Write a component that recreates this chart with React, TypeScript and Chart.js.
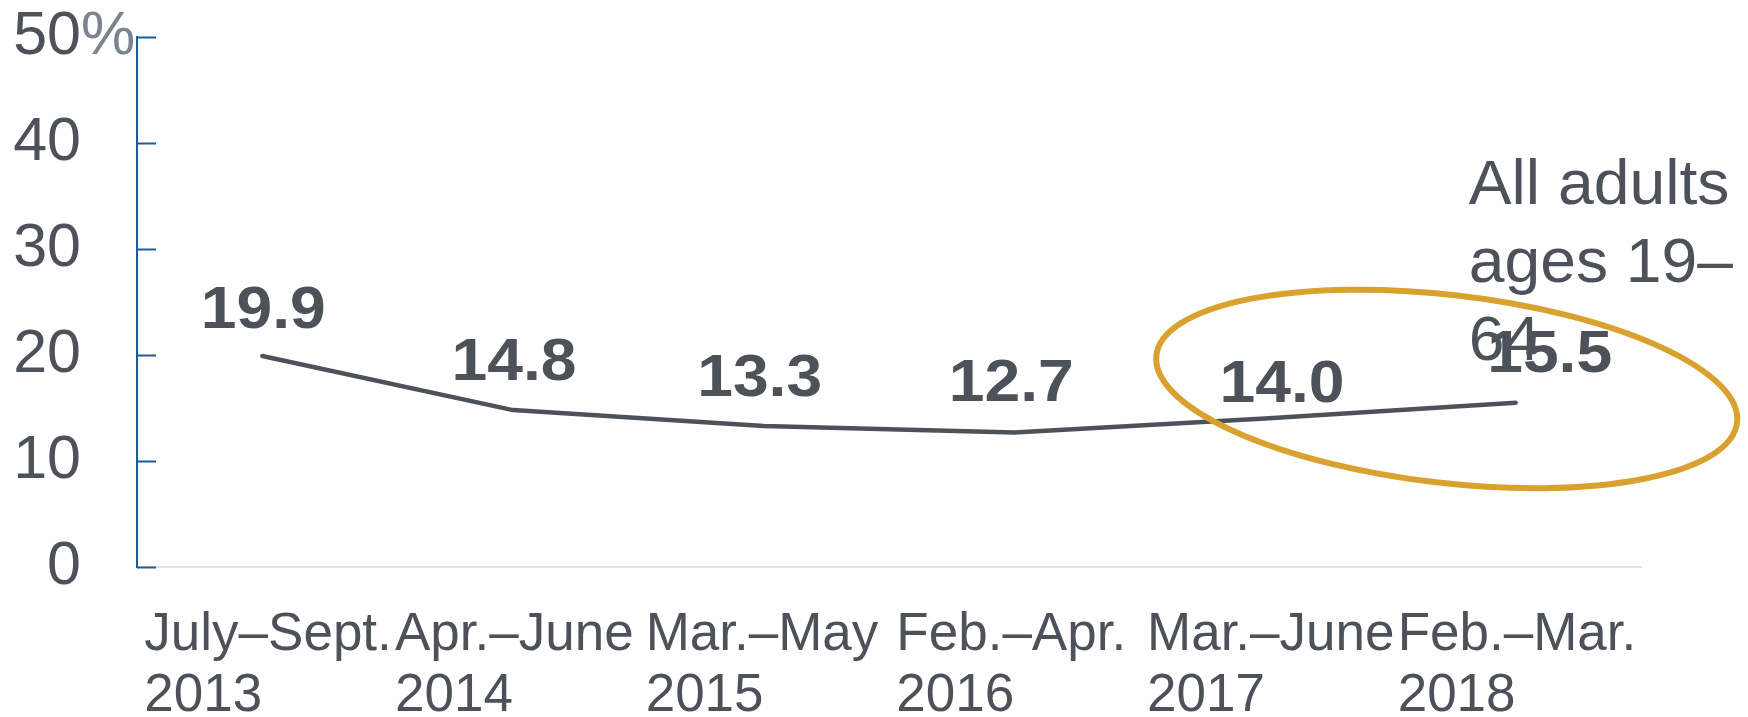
import React, { useEffect, useRef } from "react";
import { Chart, registerables } from "chart.js";

Chart.register(...registerables);

// ---- data ----
const categoryLines: string[][] = [
  ["July–Sept.", "2013"],
  ["Apr.–June", "2014"],
  ["Mar.–May", "2015"],
  ["Feb.–Apr.", "2016"],
  ["Mar.–June", "2017"],
  ["Feb.–Mar.", "2018"],
];
const uninsuredRate: number[] = [19.9, 14.8, 13.3, 12.7, 14.0, 15.5];
const yTickValues: number[] = [0, 10, 20, 30, 40, 50];
const seriesName: string[] = ["All adults", "ages 19–", "64"];

const TEXT = "#4d525a";
const PCT = "#7b8290";
const AXIS_BLUE = "#1f5b96";
const GOLD = "#d9a12f";
const FONT = "'Liberation Sans', Arial, Helvetica, sans-serif";

export default function App() {
  const ref = useRef<HTMLCanvasElement>(null);

  useEffect(() => {
    const canvas = ref.current;
    if (!canvas) return;

    const annotations = {
      id: "annotations",
      afterDraw(chart: any) {
        const ctx = chart.ctx as CanvasRenderingContext2D;
        const xs = chart.scales.x;
        const ys = chart.scales.y;
        const area = chart.chartArea;
        ctx.save();

        // y-axis tick marks pointing into the plot
        ctx.strokeStyle = AXIS_BLUE;
        ctx.lineWidth = 2;
        yTickValues.forEach((v) => {
          const py = Math.round(ys.getPixelForValue(v)) + 0.5;
          ctx.beginPath();
          ctx.moveTo(area.left, py);
          ctx.lineTo(area.left + 19, py);
          ctx.stroke();
        });

        // "%" after the top tick label
        ctx.font = `61px ${FONT}`;
        ctx.fillStyle = PCT;
        ctx.textAlign = "left";
        ctx.textBaseline = "middle";
        ctx.fillText("%", area.left - 56, ys.getPixelForValue(yTickValues[yTickValues.length - 1]));

        // series name
        ctx.font = `63px ${FONT}`;
        ctx.fillStyle = TEXT;
        ctx.textBaseline = "alphabetic";
        const nameX = xs.getPixelForValue(uninsuredRate.length - 1) - 47;
        const nameY = ys.getPixelForValue(34.2);
        seriesName.forEach((line, i) => {
          ctx.save();
          ctx.translate(nameX, nameY + i * 78);
          ctx.scale(1.02, 1);
          ctx.fillText(line, 0, 0);
          ctx.restore();
        });

        // value labels
        const shiftX = [1, 1, -4, -3, 17, 34];
        const shiftY = [28, 30, 30, 31, 17, 31];
        ctx.font = `bold 60px ${FONT}`;
        ctx.textAlign = "center";
        const meta = chart.getDatasetMeta(0);
        meta.data.forEach((pt: any, i: number) => {
          ctx.save();
          ctx.translate(pt.x + shiftX[i], pt.y - shiftY[i]);
          ctx.scale(1.07, 1);
          ctx.fillText(uninsuredRate[i].toFixed(1), 0, 0);
          ctx.restore();
        });

        // highlight ellipse
        const catW = xs.getPixelForValue(1) - xs.getPixelForValue(0);
        const unitH = ys.getPixelForValue(0) - ys.getPixelForValue(1);
        const cx = xs.getPixelForValue(4.725);
        const cy = ys.getPixelForValue(16.8);
        ctx.strokeStyle = GOLD;
        ctx.lineWidth = 6;
        ctx.beginPath();
        ctx.ellipse(cx, cy, 1.166 * catW, 8.87 * unitH, (6.6 * Math.PI) / 180, 0, Math.PI * 2);
        ctx.stroke();

        ctx.restore();
      },
    };

    const chart = new Chart(canvas, {
      type: "line",
      data: {
        labels: categoryLines,
        datasets: [
          {
            data: uninsuredRate,
            borderColor: TEXT,
            borderWidth: 4.5,
            borderCapStyle: "round",
            borderJoinStyle: "round",
            pointRadius: 0,
            tension: 0,
            fill: false,
          },
        ],
      },
      options: {
        animation: false,
        responsive: false,
        maintainAspectRatio: false,
        layout: { padding: { top: 37, right: 107, left: 0, bottom: 0 } },
        plugins: {
          legend: { display: false },
          tooltip: { enabled: false },
          title: { display: false },
        },
        scales: {
          x: {
            type: "category",
            offset: true,
            grid: { display: false },
            border: { display: true, color: "#e2e2e2", width: 2 },
            ticks: {
              color: TEXT,
              font: { family: FONT, size: 53, lineHeight: 1.15 },
              align: "start",
              labelOffset: -118,
              padding: 30,
              maxRotation: 0,
              minRotation: 0,
              autoSkip: false,
            },
            afterFit: (scale: any) => {
              scale.height = 150;
              scale.paddingLeft = 0;
              scale.paddingRight = 0;
            },
          },
          y: {
            min: 0,
            max: 50,
            grid: { display: true, drawOnChartArea: false, drawTicks: false, color: "rgba(0,0,0,0)" },
            border: { display: true, color: AXIS_BLUE, width: 2 },
            ticks: {
              stepSize: 10,
              color: TEXT,
              font: { family: FONT, size: 61 },
              padding: 56,
            },
            afterFit: (scale: any) => {
              scale.width = 137;
              scale.paddingTop = 0;
              scale.paddingBottom = 0;
            },
          },
        },
      },
      plugins: [annotations],
    } as any);

    return () => chart.destroy();
  }, []);

  return (
    <div style={{ position: "fixed", left: 0, top: 0, width: 1748, height: 717, background: "#fff" }}>
      <canvas ref={ref} width={1748} height={717} style={{ display: "block" }} />
    </div>
  );
}
